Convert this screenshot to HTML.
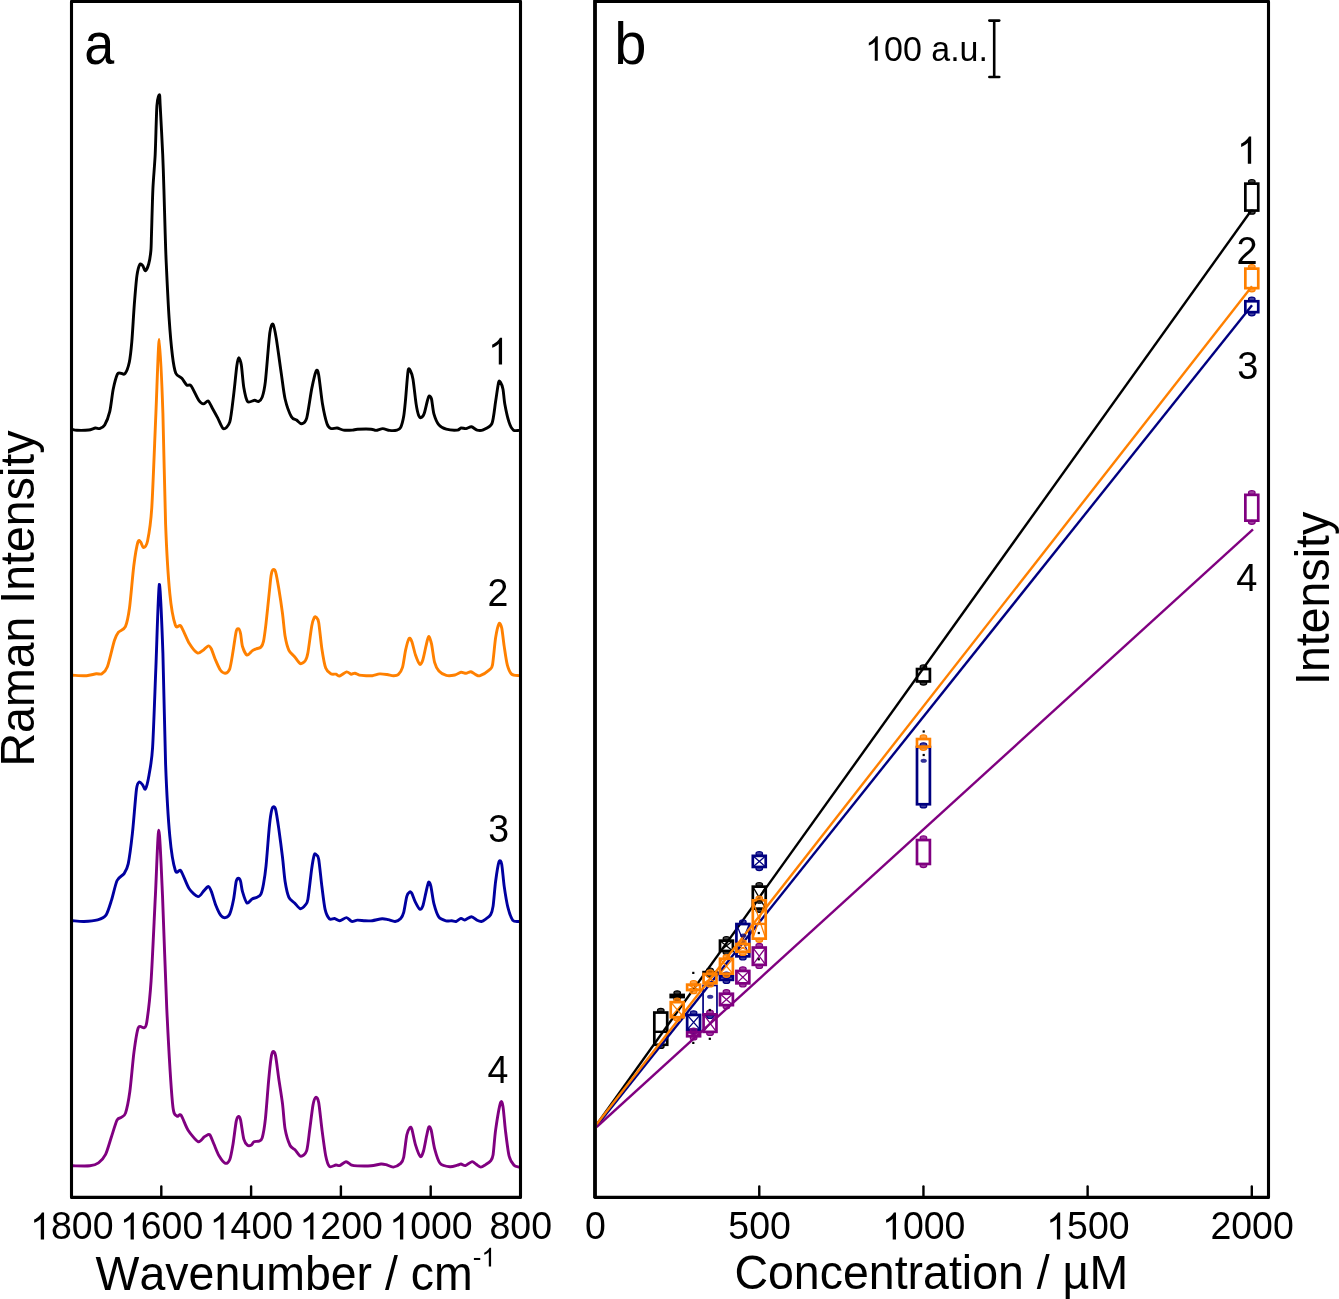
<!DOCTYPE html>
<html><head><meta charset="utf-8"><title>Raman spectra and concentration</title>
<style>html,body{margin:0;padding:0;background:#fff;overflow:hidden;}svg{display:block;will-change:transform;}text{font-family:"Liberation Sans", sans-serif;fill:#000;font-kerning:none;}</style></head><body>
<svg width="1339" height="1299" viewBox="0 0 1339 1299">
<rect x="0" y="0" width="1339" height="1299" fill="#fff"/>
<defs><clipPath id="ca"><rect x="72" y="2" width="447.5" height="1194"/></clipPath><clipPath id="cb"><rect x="597" y="2" width="670" height="1194"/></clipPath></defs>
<g clip-path="url(#ca)" fill="none" stroke-width="2.9" stroke-linejoin="round" stroke-linecap="round">
<path d="M72.5,429.5 C73.07,429.61 74.65,430.23 76.8,430.3 C78.95,430.37 86.12,430.31 88.6,430 C91.08,429.69 93.93,428.19 95.4,428 C96.87,427.81 98.36,429.01 99.6,428.6 C100.84,428.19 103.34,427.21 104.7,424.9 C106.06,422.59 108.67,416.05 109.8,411.3 C110.93,406.55 112.19,394.26 113.2,389.3 C114.21,384.34 116.39,376.25 117.4,374.1 C118.41,371.95 119.79,373.25 120.8,373.2 C121.81,373.15 123.87,375.17 125,373.7 C126.13,372.23 128.39,366.44 129.3,362.2 C130.21,357.96 131.13,349.57 131.8,341.9 C132.47,334.23 133.62,313.5 134.3,304.7 C134.98,295.9 136.17,281.26 136.9,275.9 C137.63,270.54 139.01,265.86 139.8,264.5 C140.59,263.14 142.07,264.86 142.8,265.7 C143.53,266.54 144.51,271.03 145.3,270.8 C146.09,270.57 147.95,266.71 148.7,264 C149.45,261.29 150.53,254.5 150.9,250.5 C151.27,246.5 151.23,242.2 151.5,234 C151.77,225.8 152.41,199.63 152.9,189 C153.39,178.37 154.67,165.39 155.2,154.3 C155.73,143.21 156.34,113.76 156.9,105.8 C157.46,97.84 158.96,94.6 159.4,94.6 C159.84,94.6 159.76,97.84 160.2,105.8 C160.64,113.76 162.21,143.21 162.7,154.3 C163.19,165.39 163.57,178.37 163.9,189 C164.23,199.63 164.89,224.23 165.2,234 C165.51,243.77 165.68,251.07 166.2,262.3 C166.72,273.53 168.27,305.77 169.1,318.2 C169.93,330.63 171.51,348.17 172.4,355.5 C173.29,362.83 174.55,370.16 175.8,373.2 C177.05,376.24 180.33,376.71 181.8,378.3 C183.27,379.89 185.56,384.09 186.8,385.1 C188.04,386.11 189.51,383.87 191.1,385.9 C192.69,387.93 197.05,397.9 198.7,400.3 C200.35,402.7 202.23,403.81 203.5,403.9 C204.77,403.99 207,400.39 208.2,401 C209.4,401.61 211.22,406.22 212.5,408.5 C213.78,410.78 216.35,415.41 217.8,418.1 C219.25,420.79 221.8,428.19 223.4,428.7 C225,429.21 228.44,426.37 229.8,421.9 C231.16,417.43 232.67,402.65 233.6,395.2 C234.53,387.75 236.12,370.99 236.8,366 C237.48,361.01 238.1,357.96 238.7,357.8 C239.3,357.64 240.62,360.83 241.3,364.8 C241.98,368.77 242.96,382.69 243.8,387.6 C244.64,392.51 246.16,399.91 247.6,401.6 C249.04,403.29 253.16,400.3 254.6,400.3 C256.04,400.3 257.39,402.03 258.4,401.6 C259.41,401.17 261.27,399.81 262.2,397.1 C263.13,394.39 264.39,389.85 265.4,381.3 C266.41,372.75 268.79,340.61 269.8,333 C270.81,325.39 272.15,323.52 273,324.2 C273.85,324.88 275.09,331.51 276.2,338.1 C277.31,344.69 280.11,365.48 281.3,373.6 C282.49,381.72 283.75,393.24 285.1,399 C286.45,404.76 289.88,414 291.4,416.8 C292.92,419.6 295.14,419.07 296.5,420 C297.86,420.93 300.24,424.05 301.6,423.8 C302.96,423.55 305.35,422.75 306.7,418.1 C308.05,413.45 310.43,395.19 311.7,388.9 C312.97,382.61 315.27,372.77 316.2,370.9 C317.13,369.03 317.86,370.47 318.7,374.9 C319.54,379.33 321.39,397.58 322.5,404.1 C323.61,410.62 325.89,420.55 327,423.8 C328.11,427.05 329.45,427.94 330.8,428.5 C332.15,429.06 335.41,427.79 337.1,428 C338.79,428.21 341.46,429.82 343.5,430.1 C345.54,430.38 350.55,430.21 352.4,430.1 C354.25,429.99 354.91,429.42 357.4,429.3 C359.89,429.18 368.62,429.05 371.1,429.2 C373.58,429.35 374.44,430.48 376,430.4 C377.56,430.32 380.99,428.6 382.8,428.6 C384.61,428.6 387.71,430.2 389.6,430.4 C391.49,430.6 395.52,430.5 397,430.1 C398.48,429.7 399.81,429.24 400.7,427.4 C401.59,425.56 403.05,420.09 403.7,416.3 C404.35,412.51 405.01,405.08 405.6,399 C406.19,392.92 407.45,374.43 408.1,370.7 C408.75,366.97 409.85,369.85 410.5,371 C411.15,372.15 412.25,374.91 413,379.3 C413.75,383.69 415.37,399.14 416.1,403.9 C416.83,408.66 417.85,413.16 418.5,415 C419.15,416.84 420.25,417.86 421,417.7 C421.75,417.54 423.27,415.96 424.1,413.8 C424.93,411.64 426.55,403.87 427.2,401.5 C427.85,399.13 428.43,396.33 429,396 C429.57,395.67 430.85,396.63 431.5,399 C432.15,401.37 432.91,410.35 433.9,413.8 C434.89,417.25 437.25,422.85 438.9,424.9 C440.55,426.95 443.83,428.51 446.3,429.2 C448.77,429.89 455.44,430.26 457.4,430.1 C459.36,429.94 459.85,428.2 461,428 C462.15,427.8 464.6,428.76 466,428.6 C467.4,428.44 470.02,426.6 471.5,426.8 C472.98,427 475.54,429.7 477.1,430.1 C478.66,430.5 481.23,430.65 483.2,429.8 C485.17,428.95 490.25,427.47 491.9,423.7 C493.55,419.93 494.71,407.01 495.6,401.5 C496.49,395.99 497.95,384.95 498.6,382.4 C499.25,379.85 499.91,381.49 500.5,382.4 C501.09,383.31 502.43,386.33 503,389.2 C503.57,392.07 503.99,399.47 504.8,403.9 C505.61,408.33 507.95,418.91 509.1,422.4 C510.25,425.89 512.08,429.03 513.4,430.1 C514.72,431.17 518.25,430.36 519,430.4" stroke="#000000"/>
<path d="M72.8,675.2 C74.64,675.27 83.47,675.89 86.6,675.7 C89.73,675.51 94.26,674.05 96.3,673.8 C98.34,673.55 100.42,674.73 101.9,673.8 C103.38,672.87 105.73,671.24 107.4,666.8 C109.07,662.36 112.92,645.11 114.4,640.5 C115.88,635.89 117.03,634.05 118.5,632.2 C119.97,630.35 123.92,629.93 125.4,626.6 C126.88,623.27 128.48,615.32 129.6,607.2 C130.72,599.08 132.69,574.39 133.8,565.7 C134.91,557.01 136.98,545.15 137.9,542 C138.82,538.85 139.95,541.35 140.7,542.1 C141.45,542.85 142.58,547.79 143.5,547.6 C144.42,547.41 146.49,546.06 147.6,540.7 C148.71,535.34 150.69,524.4 151.8,507.4 C152.91,490.4 154.9,435.6 155.9,413.2 C156.9,390.8 158.37,339.4 159.3,339.4 C160.23,339.4 162.06,388.57 162.9,413.2 C163.74,437.83 164.68,500.07 165.6,524.1 C166.52,548.13 168.49,579.91 169.8,593.4 C171.11,606.89 173.92,620.94 175.4,625.3 C176.88,629.66 179.06,623.7 180.9,626.1 C182.74,628.5 186.99,639.71 189.2,643.3 C191.41,646.89 195.55,652.15 197.5,653 C199.45,653.85 202.36,650.65 203.8,649.7 C205.24,648.75 207.29,645.99 208.3,645.9 C209.31,645.81 210.48,647.23 211.4,649 C212.32,650.77 214.01,656.4 215.2,659.2 C216.39,662 218.94,668.13 220.3,670 C221.66,671.87 224.13,673.37 225.4,673.2 C226.67,673.03 228.79,671.58 229.8,668.7 C230.81,665.82 232.15,656.59 233,651.6 C233.85,646.61 235.44,634.34 236.2,631.3 C236.96,628.26 238.11,628.47 238.7,628.8 C239.29,629.13 240.09,631.44 240.6,633.8 C241.11,636.16 241.65,643.66 242.5,646.5 C243.35,649.34 245.72,654.51 247,655.1 C248.28,655.69 250.91,651.71 252.1,650.9 C253.29,650.09 254.73,649.51 255.9,649 C257.07,648.49 259.89,648.11 260.9,647.1 C261.91,646.09 262.82,644.53 263.5,641.4 C264.18,638.27 265.24,630.03 266,623.6 C266.76,617.17 268.52,599.63 269.2,593.2 C269.88,586.77 270.59,578.53 271.1,575.4 C271.61,572.27 272.41,570.21 273,569.7 C273.59,569.19 274.74,569.15 275.5,571.6 C276.26,574.05 277.77,582.51 278.7,588.1 C279.63,593.69 281.65,607.07 282.5,613.5 C283.35,619.93 284.25,631.39 285.1,636.3 C285.95,641.21 287.63,647.58 288.9,650.3 C290.17,653.02 293.08,654.93 294.6,656.7 C296.12,658.47 298.86,663.09 300.3,663.6 C301.74,664.11 304.39,661.94 305.4,660.5 C306.41,659.06 307.06,657.37 307.9,652.8 C308.74,648.23 310.85,630.93 311.7,626.2 C312.55,621.47 313.7,618.49 314.3,617.3 C314.9,616.11 315.61,616.62 316.2,617.3 C316.79,617.98 317.94,618.17 318.7,622.4 C319.46,626.63 320.97,642.91 321.9,649 C322.83,655.09 324.51,664.79 325.7,668.1 C326.89,671.41 329.44,672.99 330.8,673.8 C332.16,674.61 334.71,673.91 335.9,674.2 C337.09,674.49 338.27,676.31 339.7,676 C341.13,675.69 345.08,672.14 346.6,671.9 C348.12,671.66 349.99,674.03 351.1,674.2 C352.21,674.37 353.81,673.08 354.9,673.2 C355.99,673.32 357.79,674.77 359.3,675.1 C360.81,675.43 364.47,675.62 366.2,675.7 C367.93,675.78 370.5,675.94 372.3,675.7 C374.1,675.46 377.73,674.06 379.7,673.9 C381.67,673.74 385.29,674.26 387.1,674.5 C388.91,674.74 391.82,675.67 393.3,675.7 C394.78,675.73 396.97,675.81 398.2,674.7 C399.43,673.59 401.51,670.68 402.5,667.4 C403.49,664.12 404.73,653.95 405.6,650.1 C406.47,646.25 408.17,639.65 409,638.5 C409.83,637.35 410.93,639.3 411.8,641.5 C412.67,643.7 414.43,651.96 415.5,655 C416.57,658.04 418.83,663.63 419.8,664.3 C420.77,664.97 421.99,662.39 422.8,660 C423.61,657.61 425.13,649.52 425.9,646.4 C426.67,643.28 427.85,636.93 428.6,636.6 C429.35,636.27 430.7,640.46 431.5,643.9 C432.3,647.34 433.61,658.79 434.6,662.4 C435.59,666.01 437.34,669.27 438.9,671 C440.46,672.73 444.17,674.87 446.3,675.4 C448.43,675.93 452.94,675.41 454.9,675 C456.86,674.59 459.52,672.53 461,672.3 C462.48,672.07 464.68,673.38 466,673.3 C467.32,673.22 469.59,671.51 470.9,671.7 C472.21,671.89 474.57,674.17 475.8,674.7 C477.03,675.23 478.29,676.35 480.1,675.7 C481.91,675.05 487.75,671.24 489.4,669.8 C491.05,668.36 491.67,669.17 492.5,664.9 C493.33,660.63 494.73,643.29 495.6,637.8 C496.47,632.31 498.19,625.02 499,623.7 C499.81,622.38 501.01,624.87 501.7,627.9 C502.39,630.93 503.45,641.47 504.2,646.4 C504.95,651.33 506.31,661.21 507.3,664.9 C508.29,668.59 510.04,672.66 511.6,674.1 C513.16,675.54 518.01,675.49 519,675.7" stroke="#FF8000"/>
<path d="M72.8,920.7 C74.28,920.81 80.58,921.61 83.9,921.5 C87.22,921.39 94.75,920.74 97.7,919.9 C100.65,919.06 104.15,917.87 106,915.2 C107.85,912.53 110.12,904.53 111.6,899.9 C113.08,895.27 115.43,884.01 117.1,880.5 C118.77,876.99 122.62,875.81 124.1,873.6 C125.58,871.39 127.09,869.26 128.2,863.9 C129.31,858.54 131.29,843.39 132.4,833.4 C133.51,823.41 135.58,795.85 136.5,789 C137.42,782.15 138.49,782.55 139.3,782 C140.11,781.45 141.79,783.97 142.6,784.9 C143.41,785.83 144.55,790.29 145.4,789 C146.25,787.71 148.04,780.75 149,775.2 C149.96,769.65 151.68,761.83 152.6,747.4 C153.52,732.97 155.01,688.73 155.9,667 C156.79,645.27 158.37,586.24 159.3,584.4 C160.23,582.56 162.06,629.24 162.9,653.2 C163.74,677.16 164.68,739.7 165.6,764.1 C166.52,788.5 168.49,821.97 169.8,836.2 C171.11,850.43 173.92,866.19 175.4,870.8 C176.88,875.41 179.06,868.4 180.9,870.8 C182.74,873.2 186.91,885.36 189.2,888.8 C191.49,892.24 196.15,896.32 198.1,896.6 C200.05,896.88 202.44,892.25 203.8,890.9 C205.16,889.55 207.29,886.41 208.3,886.5 C209.31,886.59 210.39,889.07 211.4,891.6 C212.41,894.13 214.62,902.29 215.9,905.5 C217.18,908.71 219.73,914.09 221,915.7 C222.27,917.31 224.23,917.85 225.4,917.6 C226.57,917.35 228.71,916.25 229.8,913.8 C230.89,911.35 232.75,903.52 233.6,899.2 C234.45,894.88 235.55,884.19 236.2,881.4 C236.85,878.61 237.91,878.3 238.5,878.3 C239.09,878.3 240.07,879.63 240.6,881.4 C241.13,883.17 241.65,888.72 242.5,891.6 C243.35,894.48 245.72,902.03 247,903 C248.28,903.97 250.75,899.66 252.1,898.9 C253.45,898.14 255.93,897.94 257.1,897.3 C258.27,896.66 260.05,895.87 260.9,894.1 C261.75,892.33 262.82,887.72 263.5,884 C264.18,880.28 265.24,873.65 266,866.2 C266.76,858.75 268.52,835.21 269.2,828.1 C269.88,820.99 270.59,815.69 271.1,812.9 C271.61,810.11 272.41,807.72 273,807.2 C273.59,806.68 274.74,806.21 275.5,809 C276.26,811.79 277.77,821.66 278.7,828.1 C279.63,834.54 281.65,850.19 282.5,857.3 C283.35,864.41 284.25,876.07 285.1,881.4 C285.95,886.73 287.63,894.42 288.9,897.3 C290.17,900.18 293.08,901.48 294.6,903 C296.12,904.52 298.86,908.45 300.3,908.7 C301.74,908.95 304.39,906.17 305.4,904.9 C306.41,903.63 307.06,904.03 307.9,899.2 C308.74,894.37 310.85,874.62 311.7,868.7 C312.55,862.78 313.7,856.65 314.3,854.8 C314.9,852.95 315.61,854.21 316.2,854.8 C316.79,855.39 317.94,854.97 318.7,859.2 C319.46,863.43 321.05,879.81 321.9,886.5 C322.75,893.19 324.09,905.08 325.1,909.4 C326.11,913.72 328.23,917.69 329.5,918.9 C330.77,920.11 333.24,918.25 334.6,918.5 C335.96,918.75 338.1,920.92 339.7,920.8 C341.3,920.68 345,917.52 346.6,917.6 C348.2,917.68 350.26,921.07 351.7,921.4 C353.14,921.73 355.61,920.18 357.4,920.1 C359.19,920.02 363.11,920.72 365.1,920.8 C367.09,920.88 370.02,920.98 372.3,920.7 C374.58,920.42 380.07,918.83 382.2,918.7 C384.33,918.57 386.58,919.33 388.3,919.7 C390.02,920.07 393.45,921.67 395.1,921.5 C396.75,921.33 399.55,919.63 400.7,918.4 C401.85,917.17 402.89,915.25 403.7,912.3 C404.51,909.35 406,899.01 406.8,896.3 C407.6,893.59 409.03,892.41 409.7,892 C410.37,891.59 411.03,891.81 411.8,893.2 C412.57,894.59 414.43,900.27 415.5,902.4 C416.57,904.53 418.83,908.71 419.8,909.2 C420.77,909.69 421.99,908.31 422.8,906.1 C423.61,903.89 425.13,895.79 425.9,892.6 C426.67,889.41 427.93,883.03 428.6,882.2 C429.27,881.37 430.19,883.53 430.9,886.4 C431.61,889.27 432.83,899.59 433.9,903.7 C434.97,907.81 437.25,914.91 438.9,917.2 C440.55,919.49 444.58,920.43 446.3,920.9 C448.02,921.37 450.49,920.62 451.8,920.7 C453.11,920.78 454.87,921.81 456.1,921.5 C457.33,921.19 459.85,918.6 461,918.4 C462.15,918.2 463.3,920.23 464.7,920 C466.1,919.77 469.85,916.66 471.5,916.7 C473.15,916.74 475.78,919.66 477.1,920.3 C478.42,920.94 480.25,921.66 481.4,921.5 C482.55,921.34 484.47,920.01 485.7,919.1 C486.93,918.19 489.61,916.43 490.6,914.7 C491.59,912.97 492.43,910.53 493.1,906.1 C493.77,901.67 494.81,887.41 495.6,881.5 C496.39,875.59 498.19,864.11 499,861.8 C499.81,859.49 501.01,860.92 501.7,864.2 C502.39,867.48 503.37,880.64 504.2,886.4 C505.03,892.16 506.75,902.88 507.9,907.4 C509.05,911.92 511.32,918.42 512.8,920.3 C514.28,922.18 518.17,921.34 519,921.5" stroke="#0000A0"/>
<path d="M72.8,1165.8 C75.08,1165.8 86.47,1166.19 89.9,1165.8 C93.33,1165.41 96.41,1164.42 98.5,1162.9 C100.59,1161.38 103.89,1157.81 105.6,1154.4 C107.31,1150.99 109.78,1141.86 111.3,1137.3 C112.82,1132.74 115.68,1122.85 117,1120.2 C118.32,1117.55 120.07,1118.35 121.2,1117.4 C122.33,1116.45 124.35,1116.51 125.5,1113.1 C126.65,1109.69 128.67,1099.96 129.8,1091.8 C130.93,1083.64 132.87,1060.45 134,1051.9 C135.13,1043.35 136.97,1030.93 138.3,1027.7 C139.63,1024.47 142.87,1028.46 144,1027.7 C145.13,1026.94 145.85,1028.25 146.8,1022 C147.75,1015.75 149.95,997.68 151.1,980.8 C152.25,963.92 154.37,915.47 155.4,895.4 C156.43,875.33 157.85,830.3 158.8,830.3 C159.75,830.3 161.43,871.55 162.5,895.4 C163.57,919.25 165.47,981.49 166.8,1009.2 C168.13,1036.91 171.18,1088.96 172.5,1103.2 C173.82,1117.44 175.57,1114.41 176.7,1116 C177.83,1117.59 179.48,1113.21 181,1115.1 C182.52,1116.99 185.82,1126.67 188.1,1130.2 C190.38,1133.73 196.01,1140.65 198.1,1141.6 C200.19,1142.55 202.53,1138.21 203.8,1137.3 C205.07,1136.39 206.75,1135.05 207.6,1134.8 C208.45,1134.55 209.35,1134.13 210.2,1135.4 C211.05,1136.67 212.83,1141.59 214,1144.3 C215.17,1147.01 217.48,1153.17 219,1155.7 C220.52,1158.23 223.96,1162.79 225.4,1163.3 C226.84,1163.81 228.79,1162.03 229.8,1159.5 C230.81,1156.97 232.15,1149.38 233,1144.3 C233.85,1139.22 235.47,1125.12 236.2,1121.4 C236.93,1117.68 237.91,1116.57 238.5,1116.4 C239.09,1116.23 239.89,1117.06 240.6,1120.1 C241.31,1123.14 242.87,1135.84 243.8,1139.2 C244.73,1142.56 246.59,1144.54 247.6,1145.3 C248.61,1146.06 250.55,1145.38 251.4,1144.9 C252.25,1144.42 252.99,1142.21 254,1141.7 C255.01,1141.19 257.91,1141.61 259,1141.1 C260.09,1140.59 261.35,1140.86 262.2,1137.9 C263.05,1134.94 264.55,1126.51 265.4,1118.9 C266.25,1111.29 267.84,1088.93 268.6,1080.8 C269.36,1072.67 270.51,1061.79 271.1,1057.9 C271.69,1054.01 272.41,1051.93 273,1051.6 C273.59,1051.27 274.74,1051.85 275.5,1055.4 C276.26,1058.95 277.77,1071.77 278.7,1078.2 C279.63,1084.63 281.65,1096.83 282.5,1103.6 C283.35,1110.37 284.09,1123.41 285.1,1129 C286.11,1134.59 288.75,1142.7 290.1,1145.5 C291.45,1148.3 293.76,1148.56 295.2,1150 C296.64,1151.44 299.37,1156.22 300.9,1156.3 C302.43,1156.38 305.51,1154.24 306.7,1150.6 C307.89,1146.96 308.96,1135.09 309.8,1129 C310.64,1122.91 312.2,1109.13 313,1104.9 C313.8,1100.67 315.04,1097.63 315.8,1097.3 C316.56,1096.97 317.89,1098.17 318.7,1102.4 C319.51,1106.63 320.97,1121.89 321.9,1129 C322.83,1136.11 324.69,1150.7 325.7,1155.7 C326.71,1160.7 328.14,1165.26 329.5,1166.5 C330.86,1167.74 334.54,1165.12 335.9,1165 C337.26,1164.88 338.35,1166.03 339.7,1165.6 C341.05,1165.17 344.4,1161.85 346,1161.8 C347.6,1161.75 350.18,1164.65 351.7,1165.2 C353.22,1165.75 354.81,1165.82 357.4,1165.9 C359.99,1165.98 367.95,1166.05 371.1,1165.8 C374.25,1165.55 379.03,1164.16 381,1164 C382.97,1163.84 384.26,1164.19 385.9,1164.6 C387.54,1165.01 391.33,1167.26 393.3,1167.1 C395.27,1166.94 399.31,1164.72 400.7,1163.4 C402.09,1162.08 402.89,1160.99 403.7,1157.2 C404.51,1153.41 405.97,1138.93 406.8,1135 C407.63,1131.07 409.23,1128.51 409.9,1127.7 C410.57,1126.89 411.05,1126.61 411.8,1128.9 C412.55,1131.19 414.35,1141.21 415.5,1144.9 C416.65,1148.59 419.33,1155.79 420.4,1156.6 C421.47,1157.41 422.69,1153.71 423.5,1151 C424.31,1148.29 425.79,1139.49 426.5,1136.3 C427.21,1133.11 428.17,1127.93 428.8,1127.1 C429.43,1126.27 430.43,1127.23 431.2,1130.1 C431.97,1132.97 433.41,1144.16 434.6,1148.6 C435.79,1153.04 438.05,1160.97 440.1,1163.4 C442.15,1165.83 447.69,1166.56 450,1166.8 C452.31,1167.04 455.93,1165.57 457.4,1165.2 C458.87,1164.83 459.93,1163.95 461,1164 C462.07,1164.05 463.92,1165.92 465.4,1165.6 C466.88,1165.28 470.62,1161.73 472.1,1161.6 C473.58,1161.47 475.34,1163.87 476.5,1164.6 C477.66,1165.33 479.57,1167.1 480.8,1167.1 C482.03,1167.1 484.39,1165.43 485.7,1164.6 C487.01,1163.77 489.61,1162.22 490.6,1160.9 C491.59,1159.58 492.43,1158.81 493.1,1154.7 C493.77,1150.59 494.61,1137.02 495.6,1130.1 C496.59,1123.18 499.51,1105.92 500.5,1102.8 C501.49,1099.68 502.35,1103.06 503,1106.7 C503.65,1110.34 504.59,1123.53 505.4,1130.1 C506.21,1136.67 507.95,1151.32 509.1,1156 C510.25,1160.68 512.68,1163.72 514,1165.2 C515.32,1166.68 518.33,1166.85 519,1167.1" stroke="#800080"/>
</g>
<rect x="71.5" y="1.4" width="449" height="1196" fill="none" stroke="#000" stroke-width="3.1" stroke-linejoin="round"/>
<line x1="161.3" y1="1197" x2="161.3" y2="1186.5" stroke="#000" stroke-width="2.4" stroke-linecap="round"/>
<line x1="251.1" y1="1197" x2="251.1" y2="1186.5" stroke="#000" stroke-width="2.4" stroke-linecap="round"/>
<line x1="340.9" y1="1197" x2="340.9" y2="1186.5" stroke="#000" stroke-width="2.4" stroke-linecap="round"/>
<line x1="430.7" y1="1197" x2="430.7" y2="1186.5" stroke="#000" stroke-width="2.4" stroke-linecap="round"/>
<path d="M40.76,1239.4 L44.06,1239.4 L44.06,1212.56 L41.92,1212.56 C41.06,1214.26 39.61,1215.89 37.67,1217.43 C35.98,1218.75 34.89,1219.24 34.17,1219.53 L34.17,1222.72 C35.47,1222.24 36.94,1221.49 38.33,1220.63 C39.34,1219.99 40.2,1219.3 40.76,1218.71 Z" fill="#000"/>
<text transform="translate(50.94,1239.4) scale(1,1.035)" font-size="37.5">800</text>
<path d="M130.56,1239.4 L133.86,1239.4 L133.86,1212.56 L131.72,1212.56 C130.86,1214.26 129.41,1215.89 127.47,1217.43 C125.78,1218.75 124.69,1219.24 123.97,1219.53 L123.97,1222.72 C125.27,1222.24 126.74,1221.49 128.13,1220.63 C129.14,1219.99 130,1219.3 130.56,1218.71 Z" fill="#000"/>
<text transform="translate(140.74,1239.4) scale(1,1.035)" font-size="37.5">600</text>
<path d="M220.36,1239.4 L223.66,1239.4 L223.66,1212.56 L221.52,1212.56 C220.66,1214.26 219.21,1215.89 217.27,1217.43 C215.58,1218.75 214.49,1219.24 213.77,1219.53 L213.77,1222.72 C215.07,1222.24 216.54,1221.49 217.93,1220.63 C218.94,1219.99 219.8,1219.3 220.36,1218.71 Z" fill="#000"/>
<text transform="translate(230.54,1239.4) scale(1,1.035)" font-size="37.5">400</text>
<path d="M310.16,1239.4 L313.46,1239.4 L313.46,1212.56 L311.32,1212.56 C310.46,1214.26 309.01,1215.89 307.07,1217.43 C305.38,1218.75 304.29,1219.24 303.57,1219.53 L303.57,1222.72 C304.87,1222.24 306.34,1221.49 307.73,1220.63 C308.74,1219.99 309.6,1219.3 310.16,1218.71 Z" fill="#000"/>
<text transform="translate(320.34,1239.4) scale(1,1.035)" font-size="37.5">200</text>
<path d="M399.96,1239.4 L403.26,1239.4 L403.26,1212.56 L401.12,1212.56 C400.26,1214.26 398.81,1215.89 396.87,1217.43 C395.18,1218.75 394.09,1219.24 393.37,1219.53 L393.37,1222.72 C394.67,1222.24 396.14,1221.49 397.53,1220.63 C398.54,1219.99 399.4,1219.3 399.96,1218.71 Z" fill="#000"/>
<text transform="translate(410.14,1239.4) scale(1,1.035)" font-size="37.5">000</text>
<text transform="translate(489.52,1239.4) scale(1,1.035)" font-size="37.5">800</text>
<path d="M498.78,364.5 L502.07,364.5 L502.07,337.66 L499.93,337.66 C499.07,339.36 497.62,340.99 495.68,342.53 C494,343.85 492.9,344.34 492.18,344.63 L492.18,347.82 C493.48,347.34 494.95,346.59 496.34,345.73 C497.35,345.09 498.21,344.4 498.78,343.81 Z" fill="#000"/>
<text transform="translate(487.6,605.7) scale(1,1.035)" font-size="37.5">2</text>
<text transform="translate(488.2,841.9) scale(1,1.035)" font-size="37.5">3</text>
<text transform="translate(487.4,1083.4) scale(1,1.035)" font-size="37.5">4</text>
<text transform="translate(84.2,64.3) scale(0.93,1.025)" font-size="58">a</text>
<text transform="translate(95.6,1289.6) scale(1.0,1.025)" font-size="46.5">Wavenumber / cm</text>
<text x="472.7" y="1266.4" font-size="26">-</text>
<path d="M488.8,1266.4 L491.09,1266.4 L491.09,1247.79 L489.6,1247.79 C489,1248.97 488,1250.1 486.66,1251.17 C485.49,1252.08 484.73,1252.42 484.23,1252.63 L484.23,1254.83 C485.13,1254.5 486.15,1253.98 487.11,1253.39 C487.81,1252.94 488.41,1252.46 488.8,1252.05 Z" fill="#000"/>
<text transform="translate(34,766.5) rotate(-90) scale(1.0,1.025)" font-size="46.5">Raman Intensity</text>
<g clip-path="url(#cb)">
<line x1="596.6" y1="1124.5" x2="1250.5" y2="211.5" stroke="#000000" stroke-width="2.4"/>
<rect x="654.32" y="1012.55" width="12.9" height="32.2" fill="none" stroke="#000000" stroke-width="2.7"/>
<ellipse cx="660.77" cy="1010.4" rx="3.3" ry="2" fill="#000000" fill-opacity="0.75" stroke="#000000" stroke-width="1.2"/>
<ellipse cx="660.77" cy="1046.4" rx="3.3" ry="2" fill="#000000" fill-opacity="0.75" stroke="#000000" stroke-width="1.2"/>
<line x1="654.32" y1="1031.8" x2="667.22" y2="1031.8" stroke="#000000" stroke-width="2.4"/>
<rect x="669.39" y="993.6" width="15.6" height="4.8" fill="#000000"/>
<ellipse cx="677.19" cy="992.8" rx="3.3" ry="2" fill="#000000" fill-opacity="0.75" stroke="#000000" stroke-width="1.2"/>
<ellipse cx="677.19" cy="998.7" rx="3.3" ry="2" fill="#000000" fill-opacity="0.75" stroke="#000000" stroke-width="1.2"/>
<rect x="702.22" y="970.8" width="15.6" height="4.2" fill="#000000"/>
<ellipse cx="710.02" cy="970" rx="3.3" ry="2" fill="#000000" fill-opacity="0.75" stroke="#000000" stroke-width="1.2"/>
<ellipse cx="710.02" cy="975.3" rx="3.3" ry="2" fill="#000000" fill-opacity="0.75" stroke="#000000" stroke-width="1.2"/>
<rect x="719.99" y="940.65" width="12.9" height="10.3" fill="none" stroke="#000000" stroke-width="2.7"/>
<path d="M719.99,940.65 L732.89,950.95 M732.89,940.65 L719.99,950.95" stroke="#000000" stroke-width="1.3" fill="none"/>
<ellipse cx="726.44" cy="938.5" rx="3.3" ry="2" fill="#000000" fill-opacity="0.75" stroke="#000000" stroke-width="1.2"/>
<ellipse cx="726.44" cy="952.6" rx="3.3" ry="2" fill="#000000" fill-opacity="0.75" stroke="#000000" stroke-width="1.2"/>
<rect x="752.82" y="886.65" width="12.9" height="22" fill="none" stroke="#000000" stroke-width="2.7"/>
<path d="M752.82,886.65 L765.73,908.65 M765.73,886.65 L752.82,908.65" stroke="#000000" stroke-width="1.3" fill="none"/>
<ellipse cx="759.27" cy="884.5" rx="3.3" ry="2" fill="#000000" fill-opacity="0.75" stroke="#000000" stroke-width="1.2"/>
<ellipse cx="759.27" cy="910.3" rx="3.3" ry="2" fill="#000000" fill-opacity="0.75" stroke="#000000" stroke-width="1.2"/>
<rect x="917" y="669.05" width="12.9" height="12.4" fill="none" stroke="#000000" stroke-width="2.7"/>
<ellipse cx="923.45" cy="666.9" rx="3.3" ry="2" fill="#000000" fill-opacity="0.75" stroke="#000000" stroke-width="1.2"/>
<ellipse cx="923.45" cy="683.1" rx="3.3" ry="2" fill="#000000" fill-opacity="0.75" stroke="#000000" stroke-width="1.2"/>
<rect x="1245.35" y="183.65" width="12.9" height="26.9" fill="none" stroke="#000000" stroke-width="2.7"/>
<ellipse cx="1251.8" cy="181.5" rx="3.3" ry="2" fill="#000000" fill-opacity="0.75" stroke="#000000" stroke-width="1.2"/>
<ellipse cx="1251.8" cy="212.2" rx="3.3" ry="2" fill="#000000" fill-opacity="0.75" stroke="#000000" stroke-width="1.2"/>
<line x1="596.6" y1="1126" x2="1252" y2="305.2" stroke="#000080" stroke-width="2.4"/>
<rect x="687.15" y="1014.95" width="12.9" height="14.7" fill="none" stroke="#000080" stroke-width="2.7"/>
<path d="M687.15,1014.95 L700.06,1029.65 M700.06,1014.95 L687.15,1029.65" stroke="#000080" stroke-width="1.3" fill="none"/>
<ellipse cx="693.61" cy="1012.8" rx="3.3" ry="2" fill="#000080" fill-opacity="0.75" stroke="#000080" stroke-width="1.2"/>
<ellipse cx="693.61" cy="1031.3" rx="3.3" ry="2" fill="#000080" fill-opacity="0.75" stroke="#000080" stroke-width="1.2"/>
<rect x="703.07" y="985.45" width="13.9" height="29.9" fill="none" stroke="#000080" stroke-width="1.7"/>
<ellipse cx="710.02" cy="983.8" rx="3.3" ry="2" fill="#000080" fill-opacity="0.75" stroke="#000080" stroke-width="1.2"/>
<ellipse cx="710.02" cy="1016.5" rx="3.3" ry="2" fill="#000080" fill-opacity="0.75" stroke="#000080" stroke-width="1.2"/>
<rect x="719.99" y="976.35" width="12.9" height="3.5" fill="none" stroke="#000080" stroke-width="2.7"/>
<path d="M719.99,976.35 L732.89,979.85 M732.89,976.35 L719.99,979.85" stroke="#000080" stroke-width="1.3" fill="none"/>
<ellipse cx="726.44" cy="974.2" rx="3.3" ry="2" fill="#000080" fill-opacity="0.75" stroke="#000080" stroke-width="1.2"/>
<ellipse cx="726.44" cy="981.5" rx="3.3" ry="2" fill="#000080" fill-opacity="0.75" stroke="#000080" stroke-width="1.2"/>
<rect x="736.41" y="924.05" width="12.9" height="32.3" fill="none" stroke="#000080" stroke-width="2.7"/>
<path d="M736.41,924.05 L749.31,956.35 M749.31,924.05 L736.41,956.35" stroke="#000080" stroke-width="1.3" fill="none"/>
<ellipse cx="742.86" cy="921.9" rx="3.3" ry="2" fill="#000080" fill-opacity="0.75" stroke="#000080" stroke-width="1.2"/>
<ellipse cx="742.86" cy="958" rx="3.3" ry="2" fill="#000080" fill-opacity="0.75" stroke="#000080" stroke-width="1.2"/>
<rect x="752.82" y="855.85" width="12.9" height="11.1" fill="none" stroke="#000080" stroke-width="2.7"/>
<path d="M752.82,855.85 L765.73,866.95 M765.73,855.85 L752.82,866.95" stroke="#000080" stroke-width="1.3" fill="none"/>
<ellipse cx="759.27" cy="853.7" rx="3.3" ry="2" fill="#000080" fill-opacity="0.75" stroke="#000080" stroke-width="1.2"/>
<ellipse cx="759.27" cy="868.6" rx="3.3" ry="2" fill="#000080" fill-opacity="0.75" stroke="#000080" stroke-width="1.2"/>
<rect x="917" y="747.05" width="12.9" height="57.2" fill="none" stroke="#000080" stroke-width="2.7"/>
<ellipse cx="923.45" cy="744.9" rx="3.3" ry="2" fill="#000080" fill-opacity="0.75" stroke="#000080" stroke-width="1.2"/>
<ellipse cx="923.45" cy="805.9" rx="3.3" ry="2" fill="#000080" fill-opacity="0.75" stroke="#000080" stroke-width="1.2"/>
<rect x="1245.35" y="301.25" width="12.9" height="10.9" fill="none" stroke="#000080" stroke-width="2.7"/>
<ellipse cx="1251.8" cy="299.1" rx="3.3" ry="2" fill="#000080" fill-opacity="0.75" stroke="#000080" stroke-width="1.2"/>
<ellipse cx="1251.8" cy="313.8" rx="3.3" ry="2" fill="#000080" fill-opacity="0.75" stroke="#000080" stroke-width="1.2"/>
<line x1="596.6" y1="1127" x2="1253" y2="529.4" stroke="#800080" stroke-width="2.4"/>
<rect x="687.15" y="1032.15" width="12.9" height="4.1" fill="none" stroke="#800080" stroke-width="2.7"/>
<path d="M687.15,1032.15 L700.06,1036.25 M700.06,1032.15 L687.15,1036.25" stroke="#800080" stroke-width="1.3" fill="none"/>
<ellipse cx="693.61" cy="1030" rx="3.3" ry="2" fill="#800080" fill-opacity="0.75" stroke="#800080" stroke-width="1.2"/>
<ellipse cx="693.61" cy="1037.9" rx="3.3" ry="2" fill="#800080" fill-opacity="0.75" stroke="#800080" stroke-width="1.2"/>
<rect x="703.57" y="1014.35" width="12.9" height="17.5" fill="none" stroke="#800080" stroke-width="2.7"/>
<path d="M703.57,1014.35 L716.47,1031.85 M716.47,1014.35 L703.57,1031.85" stroke="#800080" stroke-width="1.3" fill="none"/>
<ellipse cx="710.02" cy="1012.2" rx="3.3" ry="2" fill="#800080" fill-opacity="0.75" stroke="#800080" stroke-width="1.2"/>
<ellipse cx="710.02" cy="1033.5" rx="3.3" ry="2" fill="#800080" fill-opacity="0.75" stroke="#800080" stroke-width="1.2"/>
<rect x="719.99" y="993.75" width="12.9" height="11.4" fill="none" stroke="#800080" stroke-width="2.7"/>
<path d="M719.99,993.75 L732.89,1005.15 M732.89,993.75 L719.99,1005.15" stroke="#800080" stroke-width="1.3" fill="none"/>
<ellipse cx="726.44" cy="991.6" rx="3.3" ry="2" fill="#800080" fill-opacity="0.75" stroke="#800080" stroke-width="1.2"/>
<ellipse cx="726.44" cy="1006.8" rx="3.3" ry="2" fill="#800080" fill-opacity="0.75" stroke="#800080" stroke-width="1.2"/>
<rect x="736.41" y="970.95" width="12.9" height="12.4" fill="none" stroke="#800080" stroke-width="2.7"/>
<path d="M736.41,970.95 L749.31,983.35 M749.31,970.95 L736.41,983.35" stroke="#800080" stroke-width="1.3" fill="none"/>
<ellipse cx="742.86" cy="968.8" rx="3.3" ry="2" fill="#800080" fill-opacity="0.75" stroke="#800080" stroke-width="1.2"/>
<ellipse cx="742.86" cy="985" rx="3.3" ry="2" fill="#800080" fill-opacity="0.75" stroke="#800080" stroke-width="1.2"/>
<rect x="752.82" y="947.55" width="12.9" height="17.3" fill="none" stroke="#800080" stroke-width="2.7"/>
<path d="M752.82,947.55 L765.73,964.85 M765.73,947.55 L752.82,964.85" stroke="#800080" stroke-width="1.3" fill="none"/>
<ellipse cx="759.27" cy="945.4" rx="3.3" ry="2" fill="#800080" fill-opacity="0.75" stroke="#800080" stroke-width="1.2"/>
<ellipse cx="759.27" cy="966.5" rx="3.3" ry="2" fill="#800080" fill-opacity="0.75" stroke="#800080" stroke-width="1.2"/>
<rect x="917" y="840.05" width="12.9" height="23.9" fill="none" stroke="#800080" stroke-width="2.7"/>
<ellipse cx="923.45" cy="837.9" rx="3.3" ry="2" fill="#800080" fill-opacity="0.75" stroke="#800080" stroke-width="1.2"/>
<ellipse cx="923.45" cy="865.6" rx="3.3" ry="2" fill="#800080" fill-opacity="0.75" stroke="#800080" stroke-width="1.2"/>
<rect x="1245.35" y="494.85" width="12.9" height="25.8" fill="none" stroke="#800080" stroke-width="2.7"/>
<ellipse cx="1251.8" cy="492.7" rx="3.3" ry="2" fill="#800080" fill-opacity="0.75" stroke="#800080" stroke-width="1.2"/>
<ellipse cx="1251.8" cy="522.3" rx="3.3" ry="2" fill="#800080" fill-opacity="0.75" stroke="#800080" stroke-width="1.2"/>
<line x1="596.6" y1="1124.2" x2="1252" y2="286.2" stroke="#FF8000" stroke-width="2.4"/>
<rect x="670.74" y="1002.15" width="12.9" height="15.1" fill="none" stroke="#FF8000" stroke-width="2.7"/>
<path d="M670.74,1002.15 L683.64,1017.25 M683.64,1002.15 L670.74,1017.25" stroke="#FF8000" stroke-width="1.3" fill="none"/>
<ellipse cx="677.19" cy="1000" rx="3.3" ry="2" fill="#FF8000" fill-opacity="0.75" stroke="#FF8000" stroke-width="1.2"/>
<ellipse cx="677.19" cy="1018.9" rx="3.3" ry="2" fill="#FF8000" fill-opacity="0.75" stroke="#FF8000" stroke-width="1.2"/>
<rect x="687.15" y="984.65" width="12.9" height="5.4" fill="none" stroke="#FF8000" stroke-width="2.7"/>
<path d="M687.15,984.65 L700.06,990.05 M700.06,984.65 L687.15,990.05" stroke="#FF8000" stroke-width="1.3" fill="none"/>
<ellipse cx="693.61" cy="982.5" rx="3.3" ry="2" fill="#FF8000" fill-opacity="0.75" stroke="#FF8000" stroke-width="1.2"/>
<ellipse cx="693.61" cy="991.7" rx="3.3" ry="2" fill="#FF8000" fill-opacity="0.75" stroke="#FF8000" stroke-width="1.2"/>
<rect x="703.57" y="973.95" width="12.9" height="9.3" fill="none" stroke="#FF8000" stroke-width="2.7"/>
<path d="M703.57,973.95 L716.47,983.25 M716.47,973.95 L703.57,983.25" stroke="#FF8000" stroke-width="1.3" fill="none"/>
<ellipse cx="710.02" cy="971.8" rx="3.3" ry="2" fill="#FF8000" fill-opacity="0.75" stroke="#FF8000" stroke-width="1.2"/>
<ellipse cx="710.02" cy="984.9" rx="3.3" ry="2" fill="#FF8000" fill-opacity="0.75" stroke="#FF8000" stroke-width="1.2"/>
<rect x="719.99" y="958.75" width="12.9" height="14.9" fill="none" stroke="#FF8000" stroke-width="2.7"/>
<path d="M719.99,958.75 L732.89,973.65 M732.89,958.75 L719.99,973.65" stroke="#FF8000" stroke-width="1.3" fill="none"/>
<ellipse cx="726.44" cy="956.6" rx="3.3" ry="2" fill="#FF8000" fill-opacity="0.75" stroke="#FF8000" stroke-width="1.2"/>
<ellipse cx="726.44" cy="975.3" rx="3.3" ry="2" fill="#FF8000" fill-opacity="0.75" stroke="#FF8000" stroke-width="1.2"/>
<rect x="736.41" y="944.05" width="12.9" height="7.7" fill="none" stroke="#FF8000" stroke-width="2.7"/>
<path d="M736.41,944.05 L749.31,951.75 M749.31,944.05 L736.41,951.75" stroke="#FF8000" stroke-width="1.3" fill="none"/>
<ellipse cx="742.86" cy="941.9" rx="3.3" ry="2" fill="#FF8000" fill-opacity="0.75" stroke="#FF8000" stroke-width="1.2"/>
<ellipse cx="742.86" cy="953.4" rx="3.3" ry="2" fill="#FF8000" fill-opacity="0.75" stroke="#FF8000" stroke-width="1.2"/>
<rect x="752.82" y="900.35" width="12.9" height="38.3" fill="none" stroke="#FF8000" stroke-width="2.7"/>
<path d="M752.82,900.35 L765.73,938.65 M765.73,900.35 L752.82,938.65" stroke="#FF8000" stroke-width="1.3" fill="none"/>
<ellipse cx="759.27" cy="898.2" rx="3.3" ry="2" fill="#FF8000" fill-opacity="0.75" stroke="#FF8000" stroke-width="1.2"/>
<ellipse cx="759.27" cy="940.3" rx="3.3" ry="2" fill="#FF8000" fill-opacity="0.75" stroke="#FF8000" stroke-width="1.2"/>
<line x1="752.82" y1="923.9" x2="765.73" y2="923.9" stroke="#FF8000" stroke-width="2.4"/>
<rect x="917" y="739.05" width="12.9" height="7.6" fill="none" stroke="#FF8000" stroke-width="2.7"/>
<ellipse cx="923.45" cy="736.9" rx="3.3" ry="2" fill="#FF8000" fill-opacity="0.75" stroke="#FF8000" stroke-width="1.2"/>
<ellipse cx="923.45" cy="748.3" rx="3.3" ry="2" fill="#FF8000" fill-opacity="0.75" stroke="#FF8000" stroke-width="1.2"/>
<rect x="1245.35" y="268.65" width="12.9" height="19.5" fill="none" stroke="#FF8000" stroke-width="2.7"/>
<ellipse cx="1251.8" cy="266.5" rx="3.3" ry="2" fill="#FF8000" fill-opacity="0.75" stroke="#FF8000" stroke-width="1.2"/>
<ellipse cx="1251.8" cy="289.8" rx="3.3" ry="2" fill="#FF8000" fill-opacity="0.75" stroke="#FF8000" stroke-width="1.2"/>
<ellipse cx="923.7" cy="760.8" rx="3.1" ry="2" fill="#000080" fill-opacity="0.8"/>
<ellipse cx="710.2" cy="996.8" rx="3.1" ry="2" fill="#000080" fill-opacity="0.8"/>
<ellipse cx="743.2" cy="935.5" rx="3.1" ry="2" fill="#000080" fill-opacity="0.8"/>
<ellipse cx="759.5" cy="902" rx="3.1" ry="2" fill="#000000" fill-opacity="0.8"/>
<rect x="692.2" y="971.8" width="2.2" height="2.2" fill="#000"/>
<rect x="708.7" y="1008.9" width="2.2" height="2.2" fill="#000"/>
<rect x="692.2" y="1041.8" width="2.2" height="2.2" fill="#000"/>
<rect x="708.7" y="1037.7" width="2.2" height="2.2" fill="#000"/>
<rect x="757.7" y="931.9" width="2.2" height="2.2" fill="#000"/>
<rect x="757.7" y="958.2" width="2.2" height="2.2" fill="#000"/>
<rect x="922.6" y="730.4" width="2.2" height="2.2" fill="#000"/>
<rect x="922.6" y="753.9" width="2.2" height="2.2" fill="#000"/>
</g>
<rect x="595" y="1.4" width="673.5" height="1196" fill="none" stroke="#000" stroke-width="3.1" stroke-linejoin="round"/>
<line x1="595" y1="0" x2="595" y2="1198" stroke="#000" stroke-width="3.6"/>
<line x1="759.27" y1="1197" x2="759.27" y2="1186.5" stroke="#000" stroke-width="2.4" stroke-linecap="round"/>
<line x1="923.45" y1="1197" x2="923.45" y2="1186.5" stroke="#000" stroke-width="2.4" stroke-linecap="round"/>
<line x1="1087.62" y1="1197" x2="1087.62" y2="1186.5" stroke="#000" stroke-width="2.4" stroke-linecap="round"/>
<line x1="1251.8" y1="1197" x2="1251.8" y2="1186.5" stroke="#000" stroke-width="2.4" stroke-linecap="round"/>
<text transform="translate(584.97,1239.4) scale(1,1.035)" font-size="37.5">0</text>
<text transform="translate(728.29,1239.4) scale(1,1.035)" font-size="37.5">500</text>
<path d="M892.71,1239.4 L896.01,1239.4 L896.01,1212.56 L893.87,1212.56 C893.01,1214.26 891.56,1215.89 889.62,1217.43 C887.93,1218.75 886.84,1219.24 886.12,1219.53 L886.12,1222.72 C887.42,1222.24 888.89,1221.49 890.28,1220.63 C891.29,1219.99 892.15,1219.3 892.71,1218.71 Z" fill="#000"/>
<text transform="translate(902.89,1239.4) scale(1,1.035)" font-size="37.5">000</text>
<path d="M1056.89,1239.4 L1060.18,1239.4 L1060.18,1212.56 L1058.04,1212.56 C1057.18,1214.26 1055.74,1215.89 1053.79,1217.43 C1052.11,1218.75 1051.01,1219.24 1050.3,1219.53 L1050.3,1222.72 C1051.6,1222.24 1053.06,1221.49 1054.45,1220.63 C1055.46,1219.99 1056.32,1219.3 1056.89,1218.71 Z" fill="#000"/>
<text transform="translate(1067.07,1239.4) scale(1,1.035)" font-size="37.5">500</text>
<text transform="translate(1210.39,1239.4) scale(1,1.035)" font-size="37.5">2000</text>
<path d="M1247.82,163.8 L1251.16,163.8 L1251.16,136.6 L1248.99,136.6 C1248.11,138.32 1246.65,139.98 1244.68,141.53 C1242.97,142.87 1241.86,143.37 1241.14,143.67 L1241.14,146.9 C1242.46,146.41 1243.94,145.65 1245.35,144.78 C1246.37,144.13 1247.24,143.43 1247.82,142.83 Z" fill="#000"/>
<text transform="translate(1236.6,263.6) scale(1,1.035)" font-size="38">2</text>
<text transform="translate(1237.2,379.1) scale(1,1.035)" font-size="38">3</text>
<text transform="translate(1236.3,591.4) scale(1,1.035)" font-size="38">4</text>
<text transform="translate(614.2,64.3) scale(1.0,1.025)" font-size="58">b</text>
<path d="M874.78,60.7 L877.77,60.7 L877.77,36.36 L875.82,36.36 C875.04,37.91 873.73,39.38 871.97,40.78 C870.45,41.97 869.45,42.42 868.8,42.69 L868.8,45.58 C869.98,45.14 871.31,44.46 872.57,43.68 C873.48,43.1 874.26,42.47 874.78,41.94 Z" fill="#000"/>
<text transform="translate(884.01,60.7) scale(1,1.035)" font-size="34">00</text>
<text transform="translate(931.27,60.7) scale(1.0,1.025)" font-size="34">a.u.</text>
<line x1="994.2" y1="20.6" x2="994.2" y2="77" stroke="#000" stroke-width="2.6"/>
<line x1="989.4" y1="20.6" x2="999.2" y2="20.6" stroke="#000" stroke-width="2.7" stroke-linecap="round"/>
<line x1="989.4" y1="77" x2="999.2" y2="77" stroke="#000" stroke-width="2.7" stroke-linecap="round"/>
<text transform="translate(734.4,1288.9) scale(1.0,1.025)" font-size="46.5">Concentration / µM</text>
<text transform="translate(1328.8,685) rotate(-90) scale(1.0,1.025)" font-size="46.5">Intensity</text>
</svg></body></html>
